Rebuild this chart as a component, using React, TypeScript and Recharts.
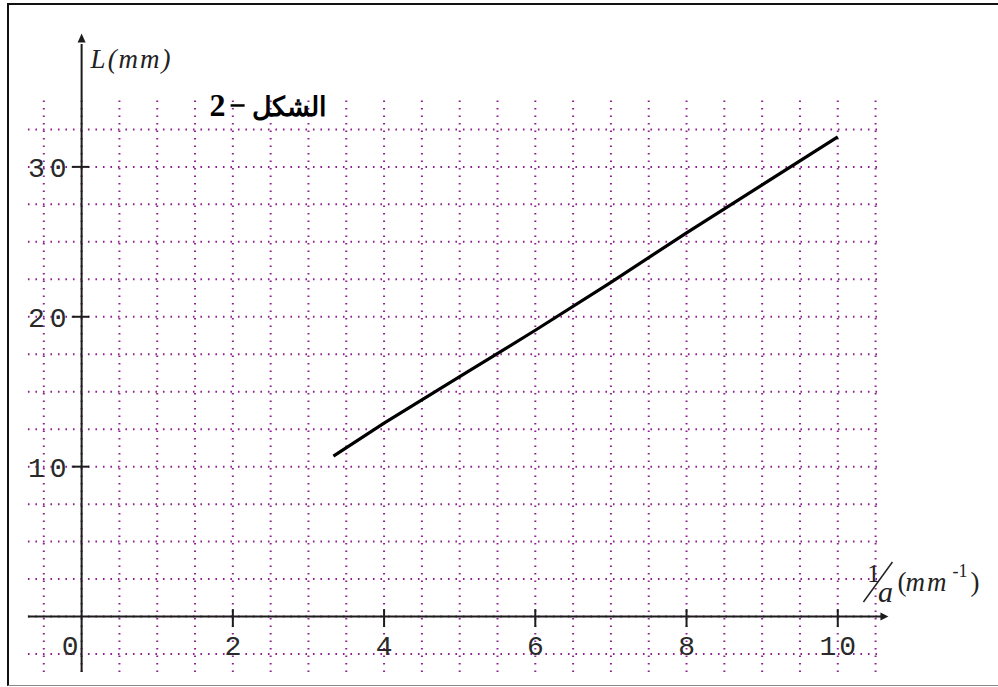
import { LineChart, Line, XAxis, YAxis, ReferenceLine, ReferenceDot } from "recharts";

// L (mm) against 1/a (mm^-1)
const invA = [3.33, 4, 5, 6, 7, 8, 9, 10];
const lengthMm = [10.7, 12.9, 16.0, 19.1, 22.3, 25.6, 28.8, 32.0];

const xTickValues = [0, 2, 4, 6, 8, 10];
const xTickLabels = ["0", "2", "4", "6", "8", "10"];
const yTickValues = [10, 20, 30];
const yTickLabels = ["10", "20", "30"];

const data = invA.map((x, i) => ({ x, L: lengthMm[i] }));

const GRID = "#8e1f8e";
const INK = "#1c1c1c";
const DIGITS = "'Liberation Mono', 'DejaVu Sans Mono', monospace";
const SERIF = "'Liberation Serif', 'DejaVu Serif', serif";

// dotted paper: every 0.5 mm^-1 and every 2.5 mm
const xGrid: number[] = [];
for (let v = -0.5; v <= 10.5; v += 0.5) xGrid.push(v);
const yGrid: number[] = [];
for (let v = -2.5; v <= 32.5; v += 2.5) yGrid.push(v);

const W = 998;
const H = 687;

export default function App() {
  return (
    <div
      style={{
        position: "absolute",
        left: 0,
        top: 0,
        width: W,
        height: H,
        background: "#fff",
        overflow: "hidden",
      }}
    >
      <div
        style={{
          position: "absolute",
          left: 7,
          top: 3,
          width: 991,
          height: 683,
          boxSizing: "border-box",
          borderTop: "2px solid #111",
          borderLeft: "2px solid #111",
          borderBottom: "1px solid #8a8a8a",
        }}
      />
      <div style={{ position: "absolute", left: 0, top: 0 }}>
        <LineChart
          width={W}
          height={H}
          data={data}
          margin={{ top: 2, right: 9, bottom: 3, left: 6 }}
        >
          <XAxis dataKey="x" type="number" domain={[-1, 12]} allowDataOverflow hide />
          <YAxis type="number" domain={[-4.5, 41]} allowDataOverflow hide />

          {xGrid.map((v) => (
            <ReferenceLine
              key={"gx" + v}
              segment={[
                { x: v, y: -3.7 },
                { x: v, y: 34.6 },
              ]}
              stroke={GRID}
              strokeWidth={2}
              strokeDasharray="1.6 5.9"
              ifOverflow="visible"
            />
          ))}
          {yGrid.map((v) => (
            <ReferenceLine
              key={"gy" + v}
              segment={[
                { x: -0.71, y: v },
                { x: 10.52, y: v },
              ]}
              stroke={GRID}
              strokeWidth={2}
              strokeDasharray="1.6 5.9"
              ifOverflow="visible"
            />
          ))}

          {/* axes through the origin */}
          <ReferenceLine
            segment={[
              { x: -0.71, y: 0 },
              { x: 10.6, y: 0 },
            ]}
            stroke={INK}
            strokeWidth={2}
            ifOverflow="visible"
          />
          <ReferenceLine
            segment={[
              { x: 0, y: -3.7 },
              { x: 0, y: 38.2 },
            ]}
            stroke={INK}
            strokeWidth={2}
            ifOverflow="visible"
          />
          <ReferenceDot
            x={10.67}
            y={0}
            ifOverflow="visible"
            shape={(p: any) => (
              <path
                d={`M${p.cx},${p.cy} L${p.cx - 8},${p.cy - 4} L${p.cx - 8},${p.cy + 4} Z`}
                fill={INK}
              />
            )}
          />
          <ReferenceDot
            x={0}
            y={38.9}
            ifOverflow="visible"
            shape={(p: any) => (
              <path
                d={`M${p.cx},${p.cy} L${p.cx - 4},${p.cy + 9} L${p.cx + 4},${p.cy + 9} Z`}
                fill={INK}
              />
            )}
          />

          {xTickValues.map((v) =>
            v === 0 ? null : (
              <ReferenceLine
                key={"tx" + v}
                segment={[
                  { x: v, y: 0.5 },
                  { x: v, y: -0.7 },
                ]}
                stroke={INK}
                strokeWidth={2}
                ifOverflow="visible"
              />
            )
          )}
          {yTickValues.map((v) => (
            <ReferenceLine
              key={"ty" + v}
              segment={[
                { x: -0.13, y: v },
                { x: 0.1, y: v },
              ]}
              stroke={INK}
              strokeWidth={2}
              ifOverflow="visible"
            />
          ))}

          {xTickValues.map((v, i) => (
            <ReferenceDot
              key={"lx" + v}
              x={v}
              y={0}
              ifOverflow="visible"
              shape={(p: any) => (
                <text
                  x={p.cx + (v === 0 ? -10 : 1.5)}
                  y={p.cy + 38}
                  textAnchor="middle"
                  fontFamily={DIGITS}
                  fontSize={28}
                  letterSpacing={3}
                  fill="#2a2a2a"
                >
                  {xTickLabels[i]}
                </text>
              )}
            />
          ))}
          {yTickValues.map((v, i) => (
            <ReferenceDot
              key={"ly" + v}
              x={0}
              y={v}
              ifOverflow="visible"
              shape={(p: any) => (
                <text
                  x={p.cx - 10}
                  y={p.cy + 10.5}
                  textAnchor="end"
                  fontFamily={DIGITS}
                  fontSize={28}
                  letterSpacing={5}
                  fill="#2a2a2a"
                >
                  {yTickLabels[i]}
                </text>
              )}
            />
          ))}

          {/* axis titles and figure caption */}
          <ReferenceDot
            x={0}
            y={38.9}
            ifOverflow="visible"
            shape={(p: any) => (
              <text
                x={p.cx + 9}
                y={p.cy + 35}
                fontFamily={SERIF}
                fontStyle="italic"
                fontSize={27}
                letterSpacing={2}
                fill="#222"
              >
                L(mm)
              </text>
            )}
          />
          <ReferenceDot
            x={0}
            y={38.9}
            ifOverflow="visible"
            shape={(p: any) => (
              <g fontWeight="bold" fill="#000">
                <text x={p.cx + 128} y={p.cy + 83} fontFamily={SERIF} fontSize={32}>
                  2
                </text>
                <line
                  x1={p.cx + 149}
                  y1={p.cy + 72}
                  x2={p.cx + 163}
                  y2={p.cy + 72}
                  stroke="#000"
                  strokeWidth={2.5}
                />
                <text x={p.cx + 245} y={p.cy + 83} textAnchor="end" fontSize={27}>
                  الشكل
                </text>
              </g>
            )}
          />
          <ReferenceDot
            x={10.67}
            y={0}
            ifOverflow="visible"
            shape={(p: any) => (
              <g fill="#222" fontFamily={SERIF}>
                <text x={p.cx - 15} y={p.cy - 34.5} textAnchor="middle" fontSize={25}>
                  1
                </text>
                <line
                  x1={p.cx - 25}
                  y1={p.cy - 14.5}
                  x2={p.cx + 4}
                  y2={p.cy - 54.5}
                  stroke="#222"
                  strokeWidth={1.5}
                />
                <text
                  x={p.cx - 3}
                  y={p.cy - 14.5}
                  textAnchor="middle"
                  fontSize={30}
                  fontStyle="italic"
                >
                  a
                </text>
                <text x={p.cx + 9} y={p.cy - 26} fontSize={27}>
                  (
                </text>
                <text
                  x={p.cx + 17}
                  y={p.cy - 26}
                  fontSize={27}
                  fontStyle="italic"
                  letterSpacing={2}
                >
                  mm
                </text>
                <text x={p.cx + 64} y={p.cy - 40} fontSize={18}>
                  -1
                </text>
                <text x={p.cx + 82} y={p.cy - 26} fontSize={27}>
                  )
                </text>
              </g>
            )}
          />

          <Line
            dataKey="L"
            type="linear"
            stroke="#000"
            strokeWidth={3.2}
            dot={false}
            activeDot={false}
            isAnimationActive={false}
          />
        </LineChart>
      </div>
    </div>
  );
}
